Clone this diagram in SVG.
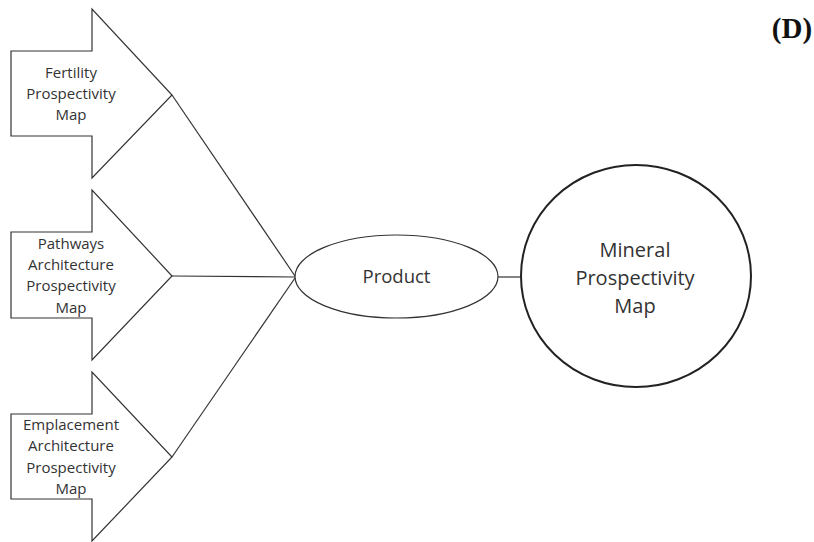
<svg xmlns="http://www.w3.org/2000/svg" width="814" height="542" viewBox="0 0 814 542">
<style>
.s{fill:#fff;stroke:#333;stroke-width:1.2}
.l{fill:none;stroke:#333;stroke-width:1.2}
text{font-family:"Open Sans","Noto Sans",sans-serif;fill:#333;text-anchor:middle;font-size:15px}
.m{font-size:20px}
.p{font-size:18.5px}
.d{font-family:"Liberation Serif",serif;font-weight:bold;font-size:29px;fill:#111}
</style>
<rect width="814" height="542" fill="#fff"/>
<g id="fertility"><path class="s" d="M11 51H92V9L172 95L92 178V136H11Z"/>
<text x="71" y="78">Fertility</text><text x="71" y="99">Prospectivity</text><text x="71" y="120">Map</text></g>
<g id="pathways"><path class="s" d="M11 232H92V190L172 276L92 360V318H11Z"/>
<text x="71" y="249">Pathways</text><text x="71" y="270">Architecture</text><text x="71" y="291">Prospectivity</text><text x="71" y="313">Map</text></g>
<g id="emplacement"><path class="s" d="M11 414H92V372L172 457L92 541V499H11Z"/>
<text x="71" y="430">Emplacement</text><text x="71" y="451">Architecture</text><text x="71" y="473">Prospectivity</text><text x="71" y="494">Map</text></g>
<g id="product"><ellipse class="s" cx="396.5" cy="276.5" rx="101.5" ry="41.5"/><text class="p" x="396.5" y="283">Product</text></g>
<g id="mineral"><ellipse cx="636" cy="276" rx="115" ry="111" fill="#fff" stroke="#222" stroke-width="2"/>
<text class="m" x="635" y="257">Mineral</text><text class="m" x="635" y="285">Prospectivity</text><text class="m" x="635" y="313">Map</text></g>
<g id="connectors">
<path class="l" d="M172 95L295 276"/>
<path class="l" d="M172 276L295 277"/>
<path class="l" d="M172 457L295 278"/>
<path class="l" d="M498 277H521"/>
</g>
<text class="d" x="792" y="38">(D)</text>
</svg>
